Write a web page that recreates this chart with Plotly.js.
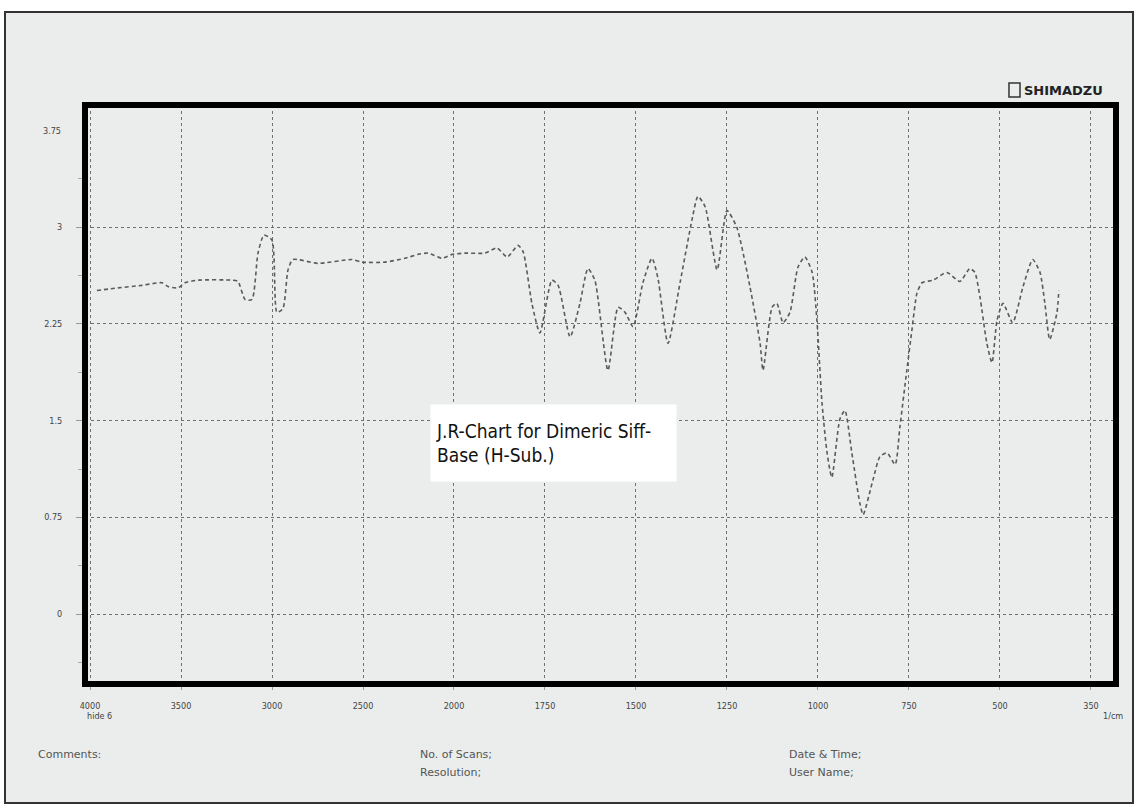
<!DOCTYPE html>
<html>
<head>
<meta charset="utf-8">
<script src="https://cdn.plot.ly/plotly-3.0.1.min.js"></script>
<style>
  html, body { margin: 0; padding: 0; background: #ffffff; }
  #chart { width: 1139px; height: 810px; }
</style>
</head>
<body>
<div id="chart"></div>
<script>
// Tick wavenumbers (cm-1) and labels along the x axis (scale changes at 2000)
const tickWavenumbers = [4000, 3500, 3000, 2500, 2000, 1750, 1500, 1250, 1000, 750, 500, 350];
const tickLabels = ["4000", "3500", "3000", "2500", "2000", "1750", "1500", "1250", "1000", "750", "500", "350"];

// Y tick values and labels
const yTickValues = [0, 0.75, 1.5, 2.25, 3];
const yTickLabels = ["0", "0.75", "1.5", "2.25", "3"];

// Spectrum: wavenumber (cm-1)
const wavenumber = [
  3962, 3846, 3714, 3604, 3571, 3516, 3478, 3407, 3220, 3187,
  3148, 3110, 3077, 3044, 3000, 2973, 2940, 2912, 2885, 2747,
  2560, 2505, 2379, 2269, 2198, 2143, 2066, 2011, 1970, 1915,
  1882, 1854, 1824, 1810, 1786, 1764, 1731, 1714, 1681, 1654,
  1632, 1613, 1577, 1549, 1530, 1508, 1481, 1456, 1440, 1412,
  1379, 1346, 1330, 1310, 1277, 1250, 1223, 1187, 1159, 1151,
  1126, 1113, 1096, 1077, 1055, 1036, 1016, 1003, 989, 975,
  962, 940, 926, 907, 885, 876, 849, 830, 810, 788,
  775, 756, 742, 728, 714, 684, 646, 610, 583, 569,
  555, 536, 522, 508, 495, 479, 462, 446, 434, 426,
  418, 406, 403
];

// Spectrum: ordinate value
const absorbance = [
  2.51, 2.53, 2.55, 2.57, 2.54, 2.53, 2.57, 2.59, 2.59, 2.58,
  2.44, 2.44, 2.80, 2.94, 2.90, 2.34, 2.37, 2.67, 2.75, 2.72,
  2.75, 2.73, 2.73, 2.76, 2.79, 2.80, 2.76, 2.79, 2.80, 2.80,
  2.84, 2.77, 2.86, 2.81, 2.41, 2.18, 2.59, 2.55, 2.15, 2.41,
  2.68, 2.59, 1.89, 2.38, 2.34, 2.23, 2.57, 2.76, 2.61, 2.10,
  2.57, 3.06, 3.24, 3.16, 2.67, 3.13, 3.00, 2.54, 2.10, 1.89,
  2.38, 2.41, 2.26, 2.34, 2.69, 2.77, 2.65, 2.28, 1.64, 1.25,
  1.06, 1.51, 1.58, 1.25, 0.86, 0.77, 1.04, 1.22, 1.25, 1.16,
  1.45, 1.89, 2.20, 2.49, 2.57, 2.59, 2.65, 2.58, 2.68, 2.65,
  2.46, 2.10, 1.95, 2.28, 2.41, 2.26, 2.54, 2.75, 2.65, 2.41,
  2.13, 2.34, 2.51
];

// Piecewise axis scale: wavenumber -> evenly spaced tick index position
function axisPos(wn) {
  for (let i = 0; i < tickWavenumbers.length - 1; i++) {
    const a = tickWavenumbers[i], b = tickWavenumbers[i + 1];
    if (wn <= a && wn >= b) return i + (a - wn) / (a - b);
  }
  return wn > tickWavenumbers[0] ? 0 : tickWavenumbers.length - 1;
}

const xPos = wavenumber.map(axisPos);
const tickPos = tickWavenumbers.map(axisPos);

const trace = {
  x: xPos,
  y: absorbance,
  customdata: wavenumber,
  type: 'scatter',
  mode: 'lines',
  line: { color: '#5a5a5a', width: 1.6, dash: '4px,3px', shape: 'spline', smoothing: 0.6 },
  hovertemplate: '%{customdata} cm-1: %{y}<extra></extra>',
  showlegend: false
};

const tickFont = { family: 'Liberation Sans Narrow, DejaVu Sans Condensed, Liberation Sans, sans-serif', size: 9, color: '#444' };
const footFont = { family: 'DejaVu Sans, Liberation Sans, sans-serif', size: 11, color: '#555' };

const layout = {
  width: 1139,
  height: 810,
  margin: { l: 85, r: 23, t: 105, b: 126 },
  paper_bgcolor: '#ffffff',
  plot_bgcolor: '#eaedec',
  showlegend: false,
  xaxis: {
    range: [-0.055, 11.275],
    tickmode: 'array',
    tickvals: tickPos,
    ticktext: tickLabels,
    tickfont: tickFont,
    ticks: 'outside',
    ticklen: 5,
    tickcolor: '#999',
    ticklabelstandoff: 8,
    showgrid: true,
    gridcolor: '#6f6f6f',
    griddash: 'dot',
    gridwidth: 1,
    zeroline: false,
    showline: false
  },
  yaxis: {
    range: [-0.543, 3.949],
    tickmode: 'array',
    tickvals: yTickValues,
    ticktext: yTickLabels,
    tickfont: tickFont,
    ticks: 'outside',
    ticklen: 8,
    tickcolor: '#999',
    ticklabelstandoff: 12,
    minor: { tickvals: [-0.375, 0.375, 1.125, 1.875, 2.625, 3.375], ticks: 'outside', ticklen: 6, tickcolor: '#aaa', showgrid: false },
    showgrid: true,
    gridcolor: '#6f6f6f',
    griddash: 'dot',
    gridwidth: 1,
    zeroline: false,
    showline: false
  },
  shapes: [
    // outer page frame
    { type: 'rect', xref: 'paper', yref: 'paper', x0: -0.0776, x1: 1.0165, y0: -0.2055, y1: 1.1606,
      line: { color: '#333', width: 2 }, fillcolor: '#eaedec', layer: 'below' },
    // thick plot border
    { type: 'rect', xref: 'paper', yref: 'paper', x0: 0, x1: 1, y0: 0, y1: 1,
      line: { color: '#000', width: 6 }, fillcolor: 'rgba(0,0,0,0)', layer: 'above' },
    // logo box
    { type: 'rect', xref: 'paper', yref: 'paper', x0: 0.8962, x1: 0.9069, y0: 1.0140, y1: 1.0380,
      line: { color: '#333', width: 1.5 }, fillcolor: 'rgba(0,0,0,0)' }
  ],
  annotations: [
    { text: '3.75', xref: 'paper', yref: 'y', x: -0.0213, y: 3.75, xanchor: 'right', yanchor: 'middle',
      showarrow: false, font: tickFont },
    { text: 'J.R-Chart for Dimeric Siff-<br>Base (H-Sub.)', xref: 'paper', yref: 'paper',
      x: 0.4544, y: 0.4162, xanchor: 'center', yanchor: 'middle', align: 'left',
      width: 235, height: 66, bgcolor: '#ffffff', borderpad: 5, showarrow: false,
      font: { family: 'Liberation Sans Narrow, DejaVu Sans Condensed, Liberation Sans, sans-serif', size: 19, color: '#111' } },
    { text: '<b>SHIMADZU</b>', xref: 'paper', yref: 'paper', x: 0.9088, y: 1.0259, xanchor: 'left', yanchor: 'middle',
      showarrow: false, font: { family: 'DejaVu Sans, Liberation Sans, sans-serif', size: 13, color: '#222' } },
    { text: 'hide 6', xref: 'paper', yref: 'paper', x: 0.0, y: -0.055, xanchor: 'left', yanchor: 'middle',
      showarrow: false, font: tickFont },
    { text: '1/cm', xref: 'paper', yref: 'paper', x: 0.9855, y: -0.055, xanchor: 'left', yanchor: 'middle',
      showarrow: false, font: tickFont },
    { text: 'Comments:', xref: 'paper', yref: 'paper', x: -0.048, y: -0.121, xanchor: 'left', yanchor: 'middle',
      showarrow: false, font: footFont },
    { text: 'No. of Scans;', xref: 'paper', yref: 'paper', x: 0.3230, y: -0.121, xanchor: 'left', yanchor: 'middle',
      showarrow: false, font: footFont },
    { text: 'Resolution;', xref: 'paper', yref: 'paper', x: 0.3230, y: -0.152, xanchor: 'left', yanchor: 'middle',
      showarrow: false, font: footFont },
    { text: 'Date &amp; Time;', xref: 'paper', yref: 'paper', x: 0.6809, y: -0.121, xanchor: 'left', yanchor: 'middle',
      showarrow: false, font: footFont },
    { text: 'User Name;', xref: 'paper', yref: 'paper', x: 0.6809, y: -0.152, xanchor: 'left', yanchor: 'middle',
      showarrow: false, font: footFont }
  ]
};

Plotly.newPlot('chart', [trace], layout, { displayModeBar: false, staticPlot: true });
</script>
</body>
</html>
